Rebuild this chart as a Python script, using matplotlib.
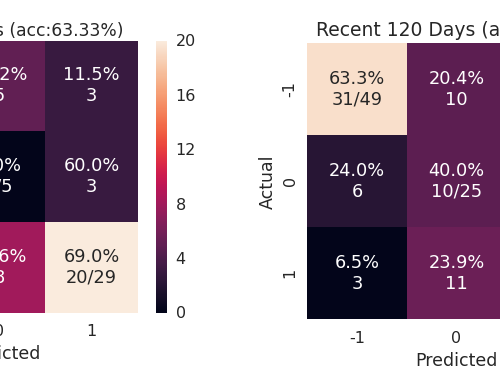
import numpy as np
import matplotlib
matplotlib.use("Agg")
import matplotlib.pyplot as plt
import seaborn as sns

classes = ["-1", "0", "1"]

# rows = actual, cols = predicted
left_counts = np.array([[18, 5, 3],
                        [2, 0, 3],
                        [1, 8, 20]])
right_counts = np.array([[31, 10, 8],
                         [6, 10, 9],
                         [3, 11, 32]])
left_title = "Recent 60 Days"
right_title = "Recent 120 Days"

sns.set_style("white")
plt.rcParams['font.family'] = ['DejaVu Sans']
plt.rcParams['text.color'] = '.15'
plt.rcParams['axes.labelcolor'] = '.15'
plt.rcParams['xtick.color'] = '.15'
plt.rcParams['ytick.color'] = '.15'


def make_labels(cm):
    totals = cm.sum(axis=1)
    labels = []
    for i in range(cm.shape[0]):
        row = []
        for j in range(cm.shape[1]):
            pct = 100.0 * cm[i, j] / totals[i]
            if i == j:
                row.append(f"{pct:.1f}%\n{cm[i, j]}/{totals[i]}")
            else:
                row.append(f"{pct:.1f}%\n{cm[i, j]}")
        labels.append(row)
    return np.array(labels)


def draw(ax, cm, title, cax=None, title_x=0.5, title_size=13, title_pad=6):
    acc = 100.0 * np.trace(cm) / cm.sum()
    sns.heatmap(cm, annot=make_labels(cm), fmt="", ax=ax, cmap="rocket",
                cbar=cax is not None, cbar_ax=cax,
                xticklabels=classes, yticklabels=classes,
                annot_kws={"fontsize": 12.8})
    ax.set_title(f"{title} (acc:{acc:.2f}%)", fontsize=title_size,
                 pad=title_pad, x=title_x)
    ax.set_xlabel("Predicted", fontsize=12.5)
    ax.set_ylabel("Actual", fontsize=12.5)
    ax.tick_params(axis="x", length=0, pad=8.5, labelsize=11.5)
    ax.tick_params(axis="y", length=0, pad=7, labelsize=11.5)
    for t in ax.get_yticklabels():
        t.set_rotation(90)
        t.set_va("center")


W, H = 500, 376
fig = plt.figure(figsize=(5, 3.76), dpi=100)

ax1 = fig.add_axes([-139.8 / W, (H - 312.5) / H, 277.8 / W, 272 / H])
cax = fig.add_axes([155.7 / W, (H - 312.5) / H, 11 / W, 272 / H])
ax2 = fig.add_axes([307.3 / W, (H - 319.3) / H, 298.2 / W, 276 / H])

draw(ax1, left_counts, left_title, cax=cax, title_x=0.491, title_size=12.3,
     title_pad=3.3)
draw(ax2, right_counts, right_title, title_x=0.514, title_size=13.5,
     title_pad=5.3)

cax.tick_params(length=0, pad=6.5, labelsize=11.5)
cax.set_yticks([0, 4, 8, 12, 16, 20])

fig.savefig("out.png", dpi=100)
